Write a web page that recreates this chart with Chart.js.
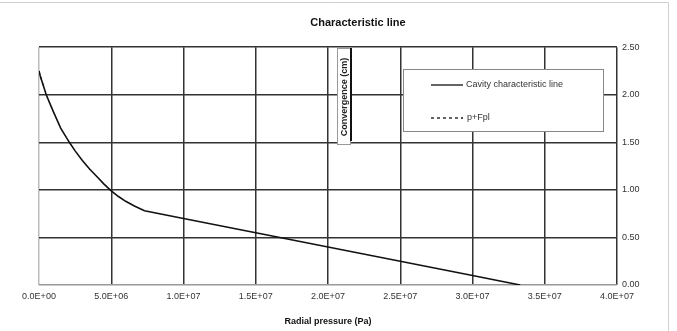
<!DOCTYPE html>
<html>
<head>
<meta charset="utf-8">
<script src="https://cdn.jsdelivr.net/npm/chart.js@4/dist/chart.umd.min.js"></script>
<style>
  body { margin: 0; background: #fff; }
  #wrap { width: 677px; height: 331px; }
</style>
</head>
<body>
<div id="wrap"><canvas id="chart" width="677" height="331"></canvas></div>
<script>
// radial pressure (Pa) and convergence (cm)
const pressure = [0, 0.1e6, 0.25e6, 0.5e6, 0.75e6, 1.0e6, 1.5e6, 2.1e6, 2.5e6, 3.0e6, 3.5e6, 4.0e6, 4.5e6, 5.0e6, 5.5e6, 6.0e6, 6.6e6, 7.3e6, 1.0e7, 1.5e7, 2.0e7, 2.5e7, 3.0e7, 3.33e7];
const convergence = [2.25, 2.19, 2.12, 2.0, 1.91, 1.82, 1.65, 1.5, 1.41, 1.31, 1.22, 1.14, 1.06, 0.99, 0.93, 0.88, 0.83, 0.78, 0.70, 0.55, 0.40, 0.25, 0.10, 0.0];
const fplPressure = [0, 0.15e6, 0.3e6];
const fplConvergence = [2.25, 2.17, 2.09];
const seriesNames = ['Cavity characteristic line', 'p+Fpl'];
const xTicks = [0, 5e6, 1e7, 1.5e7, 2e7, 2.5e7, 3e7, 3.5e7, 4e7];

function sci(v) {
  let s = v.toExponential(1).toUpperCase();
  return s.replace(/E([+-])(\d)$/, 'E$10$2');
}

const font = 'Arial, "Liberation Sans", sans-serif';

const extras = {
  id: 'extras',
  afterDraw(chart) {
    const ctx = chart.ctx;
    ctx.save();
    // outer frame (top and right edges are visible)
    ctx.strokeStyle = '#d0d0d0';
    ctx.lineWidth = 1;
    ctx.beginPath();
    ctx.moveTo(0, 2.5);
    ctx.lineTo(668.5, 2.5);
    ctx.lineTo(668.5, 331);
    ctx.stroke();

    // y axis title box
    ctx.fillStyle = '#fff';
    ctx.fillRect(337, 48, 14, 97);
    ctx.strokeStyle = '#999';
    ctx.strokeRect(337.5, 48.5, 13, 96);
    ctx.strokeStyle = '#111';
    ctx.lineWidth = 2;
    ctx.beginPath();
    ctx.moveTo(351, 48);
    ctx.lineTo(351, 141);
    ctx.stroke();
    ctx.translate(344.5, 97);
    ctx.rotate(-Math.PI / 2);
    ctx.fillStyle = '#222';
    ctx.font = 'bold 9px ' + font;
    ctx.textAlign = 'center';
    ctx.textBaseline = 'middle';
    ctx.fillText('Convergence (cm)', 0, 0);
    ctx.restore();

    // legend box
    ctx.save();
    ctx.fillStyle = '#fff';
    ctx.fillRect(403, 69, 201, 63);
    ctx.strokeStyle = '#888';
    ctx.lineWidth = 1;
    ctx.strokeRect(403.5, 69.5, 200, 62);
    ctx.strokeStyle = '#111';
    ctx.lineWidth = 1.3;
    ctx.beginPath();
    ctx.moveTo(431, 85);
    ctx.lineTo(463, 85);
    ctx.stroke();
    ctx.setLineDash([3, 3]);
    ctx.beginPath();
    ctx.moveTo(431, 118);
    ctx.lineTo(463, 118);
    ctx.stroke();
    ctx.fillStyle = '#333';
    ctx.font = '9px ' + font;
    ctx.textBaseline = 'middle';
    ctx.fillText(seriesNames[0], 466, 85);
    ctx.fillText(seriesNames[1], 467, 118);
    ctx.restore();
  }
};

new Chart(document.getElementById('chart'), {
  type: 'line',
  data: {
    datasets: [
      {
        label: seriesNames[0],
        data: pressure.map((p, i) => ({ x: p, y: convergence[i] })),
        borderColor: '#111',
        borderWidth: 1.6,
        pointRadius: 0,
        tension: 0,
        fill: false
      },
      {
        label: seriesNames[1],
        data: fplPressure.map((p, i) => ({ x: p, y: fplConvergence[i] })),
        borderColor: '#111',
        borderWidth: 1.2,
        borderDash: [3, 3],
        pointRadius: 0,
        fill: false
      }
    ]
  },
  options: {
    responsive: false,
    animation: false,
    layout: { padding: { left: 39, right: 0, top: 0, bottom: 0 } },
    plugins: {
      legend: { display: false },
      tooltip: { enabled: false },
      title: {
        display: true,
        text: 'Characteristic line',
        color: '#111',
        font: { family: font, size: 11, weight: 'bold' },
        padding: { top: 16, bottom: 18 }
      }
    },
    scales: {
      x: {
        type: 'linear',
        min: 0,
        max: 4e7,
        afterBuildTicks(scale) {
          scale.ticks = xTicks.map(v => ({ value: v }));
        },
        afterFit(scale) { scale.height = 46; },
        ticks: {
          color: '#333',
          font: { family: font, size: 9 },
          padding: 6,
          maxRotation: 0,
          callback: v => sci(v)
        },
        grid: {
          drawTicks: false,
          color: ctx => ctx.tick && ctx.tick.value === 0 ? '#bbb' : '#333',
          lineWidth: 1.5
        },
        border: { display: false },
        title: {
          display: true,
          text: 'Radial pressure (Pa)',
          color: '#111',
          font: { family: font, size: 9, weight: 'bold' },
          padding: { top: 6, bottom: 4 }
        }
      },
      y: {
        position: 'right',
        min: 0,
        max: 2.5,
        afterFit(scale) { scale.width = 60; },
        ticks: {
          stepSize: 0.5,
          color: '#333',
          font: { family: font, size: 9 },
          padding: 5,
          callback: v => v.toFixed(2)
        },
        grid: {
          drawTicks: false,
          color: ctx => ctx.tick && ctx.tick.value === 0 ? '#999' : '#333',
          lineWidth: 1.5
        },
        border: { display: false }
      }
    }
  },
  plugins: [extras]
});
</script>
</body>
</html>
